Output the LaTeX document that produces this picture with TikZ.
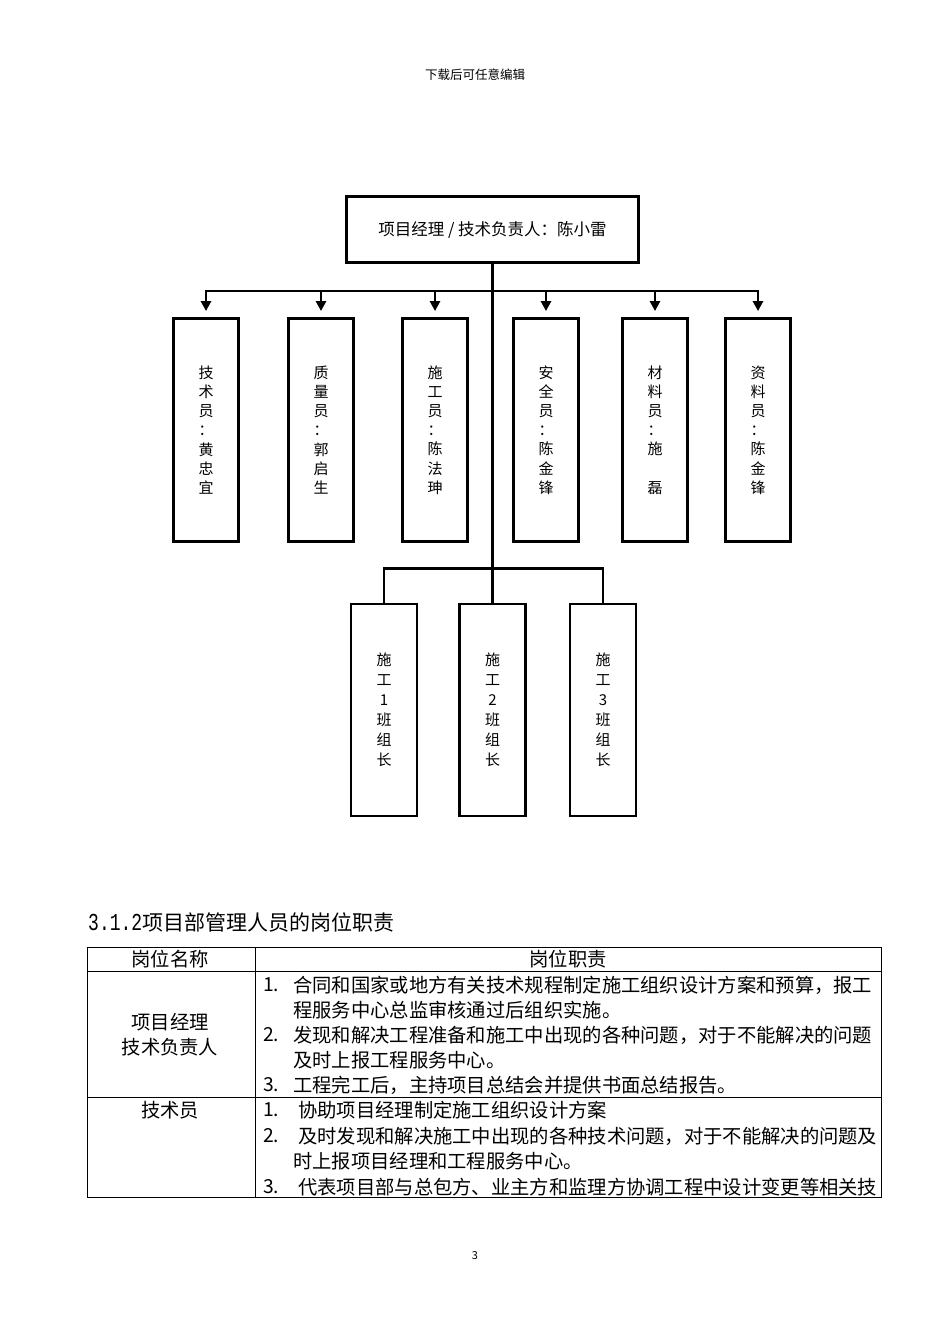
\documentclass[tikz,border=0pt]{standalone}
\usepackage{fontspec}
\setmainfont{Noto Sans CJK SC}
\newfontfamily\monofont{Liberation Mono}
\usetikzlibrary{arrows.meta,positioning}

\begin{document}
\begin{tikzpicture}[
  x=1pt, y=-1pt,
  >={Triangle[length=10pt,width=10pt]},
  headbox/.style={draw, line width=2.8pt, minimum width=292pt, minimum height=66pt, font=\fontsize{16.5}{18}\selectfont},
  staff/.style={draw, line width=2.8pt, minimum width=65pt, minimum height=223pt, align=center, font=\fontsize{15}{19.2}\selectfont},
  crew/.style={draw, line width=2.8pt, minimum width=66pt, minimum height=212pt, align=center, font=\fontsize{15}{20}\selectfont},
  link/.style={line width=2.8pt},
  arr/.style={->, line width=2.8pt, shorten >=6pt},
  cell/.style={inner sep=0pt, font=\fontsize{19.3}{25}\selectfont},
  grid/.style={line width=1pt},
]
\useasboundingbox (0,0) rectangle (950,1344);

\node[font=\fontsize{12.5}{12.5}\selectfont] (dl) at (475,75) {下载后可任意编辑};

% org chart
\node[headbox] (pm) at (492.5,229.5) {项目经理 / 技术负责人：陈小雷};

\node[staff] (tech) at (206,430) {技\\术\\员\\：\\黄\\忠\\宜};
\node[staff] (qual) at (321,430) {质\\量\\员\\：\\郭\\启\\生};
\node[staff] (cons) at (435,430) {施\\工\\员\\：\\陈\\法\\珅};
\node[staff] (safe) at (546,430) {安\\全\\员\\：\\陈\\金\\锋};
\node[staff] (matl) at (655,430) {材\\料\\员\\：\\施\\　\\磊};
\node[staff] (docs) at (758,430) {资\\料\\员\\：\\陈\\金\\锋};

\node[crew] (crew1) at (384,710) {施\\工\\1\\班\\组\\长};
\node[crew] (crew2) at (492.5,710) {施\\工\\2\\班\\组\\长};
\node[crew] (crew3) at (603,710) {施\\工\\3\\班\\组\\长};

\coordinate (bus) at (492.5,291);
\draw[link] (pm.south) -- (pm.south |- crew2.north);
\draw[arr] (bus) -| (tech.north);
\draw[arr] (bus) -| (qual.north);
\draw[arr] (bus) -| (cons.north);
\draw[arr] (bus) -| (safe.north);
\draw[arr] (bus) -| (matl.north);
\draw[arr] (bus) -| (docs.north);
\draw[link] (crew1.north) -- ++(0,-34) -| (crew3.north);

% duties table
\node[anchor=west, inner sep=0pt, font=\fontsize{21}{21}\selectfont] (sec) at (88,922) {\scalebox{1}[1.35]{\monofont\fontsize{18}{18}\selectfont 3.1.2}项目部管理人员的岗位职责};

\draw[grid] (87,947) rectangle (881,1197);
\draw[grid] (87,971) -- (881,971);
\draw[grid] (87,1097) -- (881,1097);
\draw[grid] (255,947) -- (255,1197);

\node[cell] (colname) at (170,959) {岗位名称};
\node[cell] (colduty) at (568,959) {岗位职责};

\node[cell, align=center] (pmrole) at (170,1035) {项目经理\\技术负责人};
\node[cell, anchor=west] (pmn1) at (263,985) {1.};
\node[cell, anchor=west] (pmd1) at (293,985) {合同和国家或地方有关技术规程制定施工组织设计方案和预算，报工};
\node[cell, anchor=west] (pmd1b) at (293,1010) {程服务中心总监审核通过后组织实施。};
\node[cell, anchor=west] (pmn2) at (263,1035) {2.};
\node[cell, anchor=west] (pmd2) at (293,1035) {发现和解决工程准备和施工中出现的各种问题，对于不能解决的问题};
\node[cell, anchor=west] (pmd2b) at (293,1060) {及时上报工程服务中心。};
\node[cell, anchor=west] (pmn3) at (263,1085) {3.};
\node[cell, anchor=west] (pmd3) at (293,1085) {工程完工后，主持项目总结会并提供书面总结报告。};

\node[cell] (techrole) at (170,1110) {技术员};
\node[cell, anchor=west] (ten1) at (263,1110) {1.};
\node[cell, anchor=west] (ted1) at (298,1110) {协助项目经理制定施工组织设计方案};
\node[cell, anchor=west] (ten2) at (263,1136) {2.};
\node[cell, anchor=west] (ted2) at (298,1136) {及时发现和解决施工中出现的各种技术问题，对于不能解决的问题及};
\node[cell, anchor=west] (ted2b) at (293,1161) {时上报项目经理和工程服务中心。};
\node[cell, anchor=west] (ten3) at (263,1187) {3.};
\node[cell, anchor=west] (ted3) at (298,1187) {代表项目部与总包方、业主方和监理方协调工程中设计变更等相关技};

\node[font=\fontsize{11}{11}\selectfont] (pg) at (475,1256) {3};
\end{tikzpicture}
\end{document}
